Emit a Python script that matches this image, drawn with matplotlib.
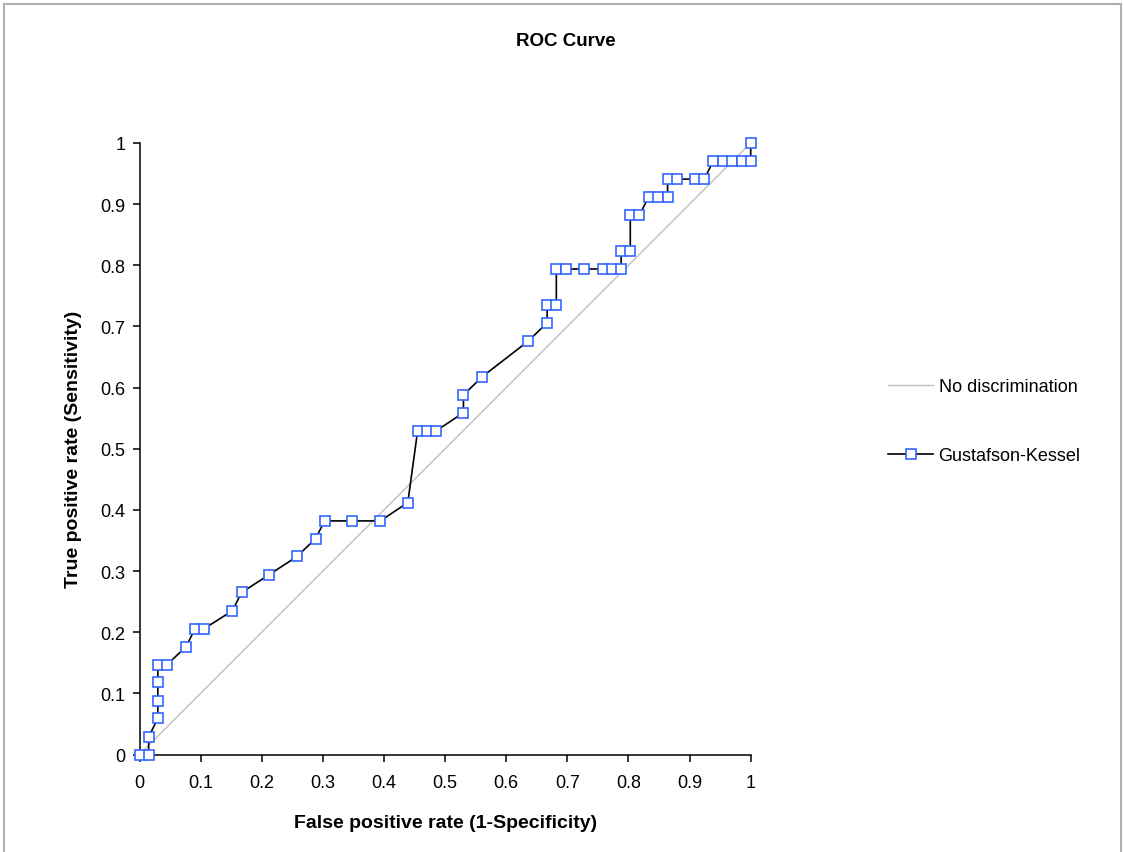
import numpy as np
import matplotlib
matplotlib.use('Agg')
import matplotlib.pyplot as plt
from matplotlib.patches import Rectangle

plt.rcParams['font.family'] = ['Liberation Sans', 'DejaVu Sans']

# ROC points (false positive rate, true positive rate)
fpr = [0.0, 0.015, 0.015, 0.030, 0.030, 0.030, 0.030, 0.045, 0.076, 0.091,
       0.106, 0.152, 0.167, 0.212, 0.258, 0.288, 0.303, 0.348, 0.394, 0.439,
       0.455, 0.470, 0.485, 0.530, 0.530, 0.561, 0.636, 0.667, 0.667, 0.682,
       0.682, 0.697, 0.727, 0.758, 0.773, 0.788, 0.788, 0.803, 0.803, 0.818,
       0.833, 0.848, 0.864, 0.864, 0.879, 0.909, 0.924, 0.939, 0.955, 0.970,
       0.985, 1.0, 1.0]
tpr = [0.0, 0.0, 0.029, 0.059, 0.088, 0.118, 0.147, 0.147, 0.176, 0.206,
       0.206, 0.235, 0.265, 0.294, 0.324, 0.353, 0.382, 0.382, 0.382, 0.412,
       0.529, 0.529, 0.529, 0.559, 0.588, 0.618, 0.676, 0.706, 0.735, 0.735,
       0.794, 0.794, 0.794, 0.794, 0.794, 0.794, 0.824, 0.824, 0.882, 0.882,
       0.912, 0.912, 0.912, 0.941, 0.941, 0.941, 0.941, 0.971, 0.971, 0.971,
       0.971, 0.971, 1.0]
diag = [0.0, 1.0]
ticks = [0, 0.1, 0.2, 0.3, 0.4, 0.5, 0.6, 0.7, 0.8, 0.9, 1]
tick_labels = ['0', '0.1', '0.2', '0.3', '0.4', '0.5', '0.6', '0.7', '0.8', '0.9', '1']

fig = plt.figure(figsize=(11.24, 8.53), dpi=100)
# grey chart-area border
fig.patches.append(Rectangle((4/1124, -0.05), 1117/1124, 1.05 - 5/853,
                             transform=fig.transFigure, fill=False,
                             edgecolor='#b0b0b0', linewidth=1.5))

ax = fig.add_axes([139.5/1124, 97.5/853, 611.2/1124, 611.5/853])
ax.plot(diag, diag, color='#c0c0c0', lw=1.0, label='No discrimination')
ax.plot(fpr, tpr, color='black', lw=1.2, marker='s', markersize=6.5,
        markerfacecolor='white', markeredgecolor='#3366ff', markeredgewidth=1.2,
        label='Gustafson-Kessel', clip_on=False, zorder=3)

ax.set_xlim(0, 1)
ax.set_ylim(0, 1)
ax.set_xticks(ticks)
ax.set_xticklabels(tick_labels)
ax.set_yticks(ticks)
ax.set_yticklabels(tick_labels)
ax.spines['top'].set_visible(False)
ax.spines['right'].set_visible(False)
ax.spines['left'].set_linewidth(1.1)
ax.spines['bottom'].set_linewidth(1.1)
ax.tick_params(direction='out', length=5, width=1.1, labelsize=13, pad=9)
ax.tick_params(axis='y', pad=5)

fig.text(566/1124, 1 - 42/853, 'ROC Curve', fontsize=13.5, fontweight='bold',
         ha='center', va='center')

ax.set_xlabel('False positive rate (1-Specificity)', fontsize=14, fontweight='bold')
ax.xaxis.set_label_coords(0.5, -0.097)
ax.set_ylabel('True positive rate (Sensitivity)', fontsize=14, fontweight='bold')
ax.yaxis.set_label_coords(-0.094, 0.5)

ax.legend(loc='upper left', bbox_to_anchor=(879/1124, 1 - 370/853),
          bbox_transform=fig.transFigure, frameon=False, fontsize=13,
          handlelength=2.5, handletextpad=0.3, labelspacing=2.9, borderpad=0)

fig.savefig('out.png', dpi=100)
